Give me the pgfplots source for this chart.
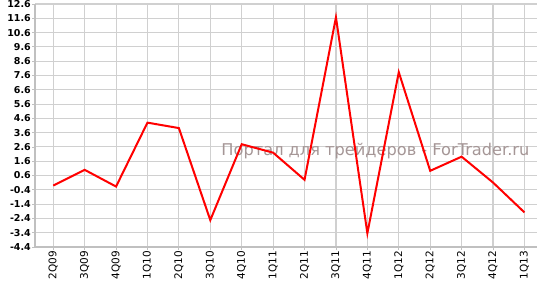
\documentclass[border=0pt]{standalone}
\usepackage{pgfplots}
\pgfplotsset{compat=1.18}
\usepackage{fontspec}
\setmainfont{DejaVu Sans}
\definecolor{gridgray}{RGB}{208,208,208}
\definecolor{axgray}{RGB}{192,192,192}
\definecolor{wm}{RGB}{165,150,150}
\begin{document}
\begin{tikzpicture}
\useasboundingbox (0,0) rectangle (537pt,284pt);
\begin{axis}[
  at={(35pt,37pt)}, anchor=south west,
  scale only axis, width=502pt, height=243pt,
  xmin=-0.58, xmax=15.4, ymin=-4.4, ymax=12.6,
  axis x line*=bottom, axis y line*=left,
  axis line style={axgray, line width=2.2pt, -},
  xtick={0,...,15},
  xticklabels={2Q09,3Q09,4Q09,1Q10,2Q10,3Q10,4Q10,1Q11,2Q11,3Q11,4Q11,1Q12,2Q12,3Q12,4Q12,1Q13},
  ytick={-4.4,-3.4,-2.4,-1.4,-0.4,0.6,1.6,2.6,3.6,4.6,5.6,6.6,7.6,8.6,9.6,10.6,11.6,12.6},
  yticklabels={-4.4,-3.4,-2.4,-1.4,-0.4,0.6,1.6,2.6,3.6,4.6,5.6,6.6,7.6,8.6,9.6,10.6,11.6,12.6},
  grid=major,
  major grid style={gridgray, line width=1.1pt},
  tick style={axgray, line width=0.8pt},
  tick align=outside, major tick length=3pt,
  xticklabel style={rotate=90, anchor=east, font=\fontsize{10.5}{11}\selectfont, inner sep=1pt},
  yticklabel style={font=\bfseries\fontsize{9.5}{10}\selectfont, inner sep=1pt},
  clip=false,
]
\node[anchor=west, text=wm, font=\fontsize{16.2}{18}\selectfont, inner sep=0pt] at (axis cs:5.35,2.3) {Портал для трейдеров - ForTrader.ru};
\addplot[red, line width=2pt, mark=none] coordinates {
(0,-0.1) (1,1.0) (2,-0.17) (3,4.3) (4,3.92) (5,-2.52) (6,2.79) (7,2.2)
(8,0.3) (9,11.67) (10,-3.44) (11,7.83) (12,0.93) (13,1.92) (14,0.11) (15,-1.98)
};
\end{axis}
\end{tikzpicture}
\end{document}
